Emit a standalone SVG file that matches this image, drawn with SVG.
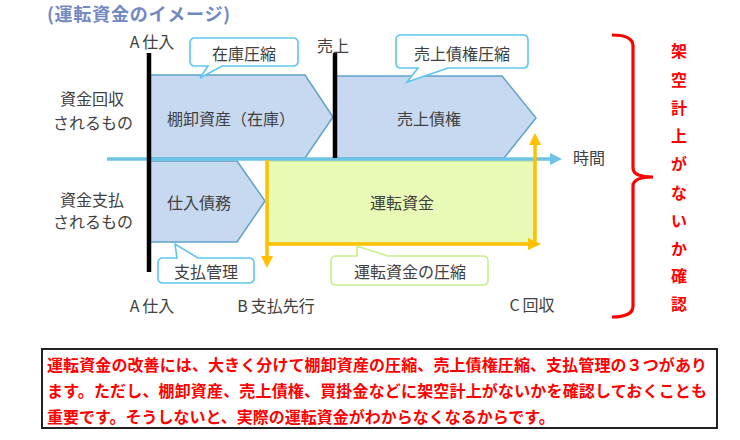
<svg xmlns="http://www.w3.org/2000/svg" width="740" height="440" viewBox="0 0 740 440">
<style>
.t{font-family:"Noto Sans CJK JP","Noto Sans",sans-serif;font-size:16px;fill:#404040;dominant-baseline:central}
.c{text-anchor:middle}
.pent{fill:#c6d9f0;stroke:#5fa3c9;stroke-width:1.5}
.call{fill:#ffffff;stroke:#5cc6ee;stroke-width:1.6}
.callg{fill:#ffffff;stroke:#c8f08a;stroke-width:1.6}
.red{font-family:"Noto Sans CJK JP","Noto Sans",sans-serif;font-size:16px;font-weight:bold;fill:#ff0000;dominant-baseline:central}
.or{stroke:#ffc000;stroke-width:3.5;fill:none}
.orh{fill:#ffc000}
.blk{stroke:#000;stroke-width:4.5}
</style>
<rect width="740" height="440" fill="#ffffff"/>
<text x="47" y="21" font-family="'Noto Sans CJK JP',sans-serif" font-size="18" font-weight="bold" fill="#7288c2" textLength="183" lengthAdjust="spacing">(運転資金のイメージ)</text>

<g id="inventory">
<polygon class="pent" points="149,75 305,75 333,117 305,158 149,158"/>
<text class="t" x="167" y="118">棚卸資産（在庫）</text>
</g>
<g id="receivables">
<polygon class="pent" points="335,76 502,76 536,118 504,158 335,158"/>
<text class="t c" x="429" y="118">売上債権</text>
</g>
<g id="payables">
<polygon class="pent" points="149,161 237,161 265,201 237,242 149,242"/>
<text class="t" x="167" y="202">仕入債務</text>
</g>
<g id="working-capital">
<rect x="268" y="161" width="266" height="82" fill="#e8fab6" stroke="#b5d98a" stroke-width="1"/>
<text class="t c" x="402" y="202">運転資金</text>
</g>

<g id="connectors">
<line x1="107" y1="159" x2="552" y2="159" stroke="#6cc3e6" stroke-width="3.5"/>
<polygon points="550,153 562,159 550,165" fill="#6cc3e6"/>
<line class="blk" x1="149" y1="53" x2="149" y2="272"/>
<line class="blk" x1="335" y1="53" x2="335" y2="158"/>
<line class="or" x1="267" y1="160" x2="267" y2="258"/>
<polygon class="orh" points="261,256 273,256 267,268"/>
<line class="or" x1="267" y1="244" x2="530" y2="244"/>
<polygon class="orh" points="528,238 541,244 528,250"/>
<line class="or" x1="535" y1="245" x2="535" y2="143"/>
<polygon class="orh" points="529,145 541,145 535,133"/>
</g>

<g id="callout-inventory">
<path class="call" d="M195,38 H293 Q298,38 298,43 V61 Q298,66 293,66 H222 L200,78 L208,66 H195 Q190,66 190,61 V43 Q190,38 195,38 Z"/>
<text class="t c" x="244" y="53">在庫圧縮</text>
</g>
<g id="callout-receivables">
<path class="call" d="M401,35 H523 Q528,35 528,40 V63 Q528,68 523,68 H448 L407,82 L418,68 H401 Q396,68 396,63 V40 Q396,35 401,35 Z"/>
<text class="t c" x="462" y="53">売上債権圧縮</text>
</g>
<g id="callout-payment">
<path class="call" d="M163,258 H177 L175,244 L198,258 H249 Q254,258 254,263 V278 Q254,283 249,283 H163 Q158,283 158,278 V263 Q158,258 163,258 Z"/>
<text class="t c" x="206" y="271">支払管理</text>
</g>
<g id="callout-wc">
<path class="callg" d="M336,256 H357 L357,246 L388,256 H483 Q488,256 488,261 V280 Q488,285 483,285 H336 Q331,285 331,280 V261 Q331,256 336,256 Z"/>
<text class="t c" x="410" y="271">運転資金の圧縮</text>
</g>

<g id="labels">
<text class="t c" x="92" y="98">資金回収</text>
<text class="t c" x="93" y="122">されるもの</text>
<text class="t c" x="92" y="199">資金支払</text>
<text class="t c" x="93" y="221">されるもの</text>
<text class="t c" x="152" y="41">A<tspan dx="3">仕入</tspan></text>
<text class="t c" x="333" y="45">売上</text>
<text class="t" x="573" y="157">時間</text>
<text class="t c" x="152" y="305">A<tspan dx="3">仕入</tspan></text>
<text class="t c" x="276" y="305">B<tspan dx="3">支払先行</tspan></text>
<text class="t c" x="532" y="304">C<tspan dx="3">回収</tspan></text>
</g>

<g id="brace">
<path d="M612,35 Q633,35 633,46 V168 Q633,177 653,177 Q633,177 633,186 V306 Q633,317 612,317" fill="none" stroke="#ff0000" stroke-width="3.2"/>
<text class="red c" x="679" y="50">架</text>
<text class="red c" x="679" y="79">空</text>
<text class="red c" x="679" y="107">計</text>
<text class="red c" x="679" y="135">上</text>
<text class="red c" x="679" y="163">が</text>
<text class="red c" x="679" y="192">な</text>
<text class="red c" x="679" y="220">い</text>
<text class="red c" x="679" y="248">か</text>
<text class="red c" x="679" y="275">確</text>
<text class="red c" x="679" y="303">認</text>
</g>

<g id="note">
<rect x="42" y="349" width="675" height="79" fill="#ffffff" stroke="#222222" stroke-width="2"/>
<text class="red" x="47" y="364" textLength="660" lengthAdjust="spacing">運転資金の改善には、大きく分けて棚卸資産の圧縮、売上債権圧縮、支払管理の３つがあり</text>
<text class="red" x="47" y="390" textLength="660" lengthAdjust="spacing">ます。ただし、棚卸資産、売上債権、買掛金などに架空計上がないかを確認しておくことも</text>
<text class="red" x="47" y="416">重要です。そうしないと、実際の運転資金がわからなくなるからです。</text>
</g>
</svg>
